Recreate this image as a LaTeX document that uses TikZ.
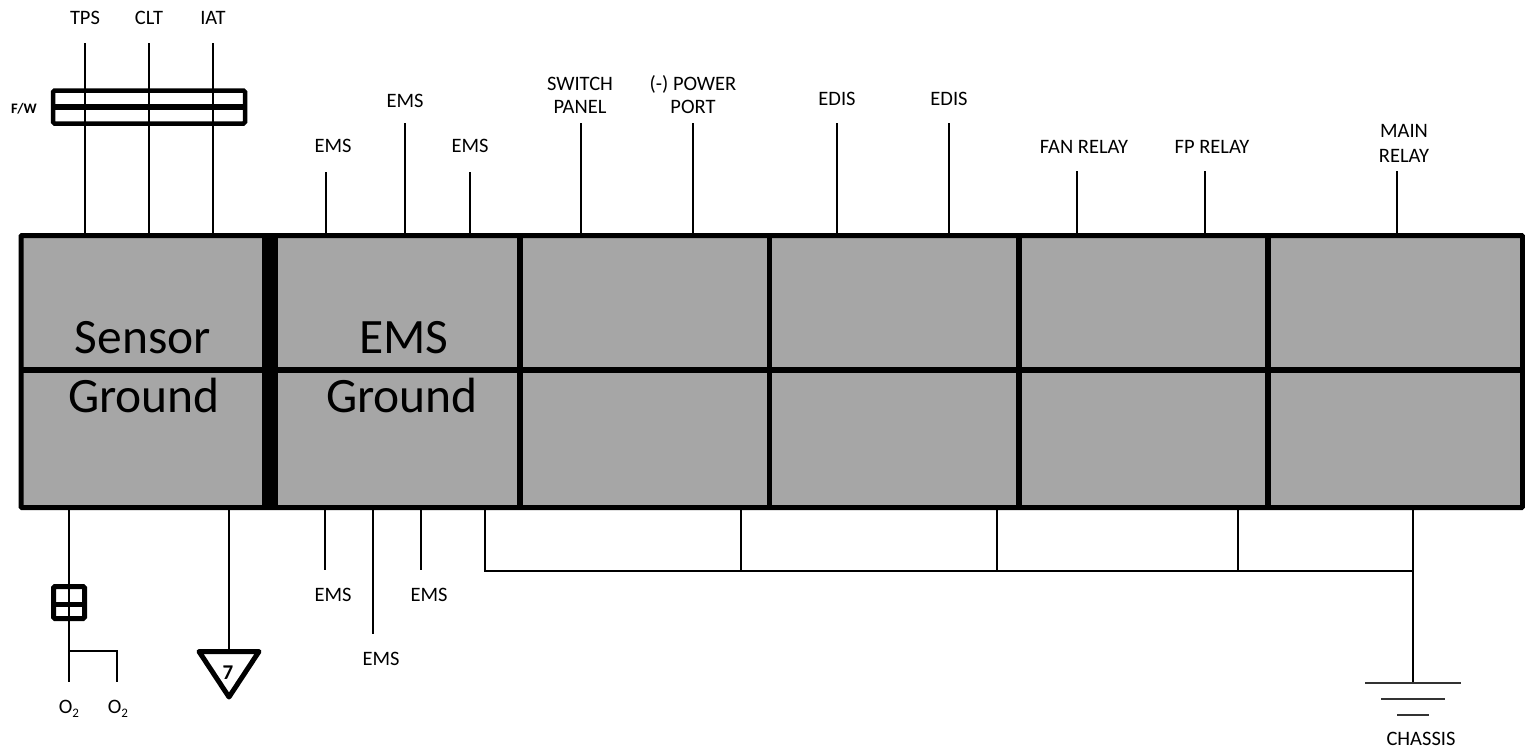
\documentclass[tikz,border=0pt]{standalone}
\usepackage{fontspec}
\setmainfont{Carlito}[BoldFont={* Bold}]
\definecolor{cellgray}{HTML}{A6A6A6}
\definecolor{gndgray}{HTML}{333333}
\begin{document}
\begin{tikzpicture}[x=1pt,y=-1pt,
  wire/.style={line width=2pt},
  heavy/.style={line width=5pt},
  lbl/.style={font=\fontsize{20.5}{23}\selectfont, inner sep=0pt, anchor=base},
  big/.style={font=\fontsize{49.5}{59}\selectfont, inner sep=0pt, anchor=base},
  gnd/.style={line width=2.5pt, draw=gndgray}]
\useasboundingbox (0,0) rectangle (1525,748);

% main block
\fill[cellgray] (21,235.5) rectangle (1522.5,507.5);
\foreach \x in {520,769.5,1019,1268} \draw[line width=5.5pt] (\x,235.5) -- (\x,507.5);
\draw[line width=5.5pt] (21,370) -- (1522.5,370);
\fill[black] (262,235.5) rectangle (278,507.5);
\draw[heavy, rounded corners=1pt] (21,235.5) rectangle (1522.5,507.5);

\node[big] (sensor) at (143,353) {Sensor};
\node[big] (sgnd) at (144,412) {Ground};
\node[big] (ems) at (404,353) {EMS};
\node[big] (egnd) at (402,412) {Ground};

% top labels
\node[lbl] (tps) at (85,24) {TPS};
\node[lbl] (clt) at (149,24) {CLT};
\node[lbl] (iat) at (213,24) {IAT};
\node[lbl] (ems1) at (333,152) {EMS};
\node[lbl] (ems2) at (405,107) {EMS};
\node[lbl] (ems3) at (470,152) {EMS};
\node[lbl] (sw1) at (580,90) {SWITCH};
\node[lbl] (sw2) at (580,113) {PANEL};
\node[lbl] (pp1) at (693,90) {(-) POWER};
\node[lbl] (pp2) at (693,113) {PORT};
\node[lbl] (edis1) at (837,105) {EDIS};
\node[lbl] (edis2) at (949,105) {EDIS};
\node[lbl] (fan) at (1084,153) {FAN RELAY};
\node[lbl] (fp) at (1212,153) {FP RELAY};
\node[lbl] (mr1) at (1404,137) {MAIN};
\node[lbl] (mr2) at (1404,162) {RELAY};

% top wires
\foreach \x/\t in {85/43,149/43,213/43,326/172,405/123,470/172,581/123,693/123,837/123,949/123,1077/171,1205/171,1397/171}
  \draw[wire] (\x,\t) -- (\x,235.5);

% F/W connector
\fill[white] (53,90.5) rectangle (245,123.5);
\foreach \x in {85,149,213} \draw[wire] (\x,90) -- (\x,124);
\draw[line width=4.5pt, rounded corners=1.5pt] (53,90.5) rectangle (245,123.5);
\draw[line width=6pt] (53,107) -- (245,107);
\node[font=\fontsize{14.5}{16}\selectfont\bfseries, inner sep=0pt, anchor=base] (fw) at (24,113) {F/W};

% bottom EMS wires
\draw[wire] (325,507.5) -- (325,570);
\draw[wire] (373,507.5) -- (373,634);
\draw[wire] (421,507.5) -- (421,570);
\node[lbl] (ems4) at (333,601) {EMS};
\node[lbl] (ems5) at (381,665) {EMS};
\node[lbl] (ems6) at (429,601) {EMS};

% chassis bus
\coordinate (b0) at (485,571);
\coordinate (b4) at (1413,571);
\draw[wire] (485,507.5) -- (b0) -- (b4);
\foreach \x in {741,997,1238} \draw[wire] (\x,507.5) -- (\x,571);
\coordinate (g0) at (1413,683);
\draw[wire] (1413,507.5) -- (g0);
\draw[gnd] (1365,683) -- (1461,683);
\draw[gnd] (1381,699) -- (1445,699);
\draw[gnd] (1397,715) -- (1429,715);
\node[lbl] (chassis) at (1421,745) {CHASSIS};

% O2 sensors
\draw[wire] (69,507.5) -- (69,682);
\draw[wire] (69,651) -- (117,651) -- (117,682);
\fill[white] (53.5,586.5) rectangle (84.5,618.5);
\draw[wire] (69,586) -- (69,619);
\draw[heavy, rounded corners=1.5pt] (53.5,586.5) rectangle (84.5,618.5);
\draw[heavy] (53.5,604) -- (84.5,604);
\node[lbl] (o2a) at (69,713) {O\raisebox{-4pt}{\fontsize{13}{14}\selectfont 2}};
\node[lbl] (o2b) at (118,713) {O\raisebox{-4pt}{\fontsize{13}{14}\selectfont 2}};

% ground reference 7
\draw[wire] (229,507.5) -- (229,651);
\draw[heavy, line join=round] (199,651.5) -- (259,651.5) -- (229,697) -- cycle;
\node[font=\fontsize{21}{23}\selectfont\bfseries, inner sep=0pt, anchor=base] (seven) at (228,679) {7};
\end{tikzpicture}
\end{document}
